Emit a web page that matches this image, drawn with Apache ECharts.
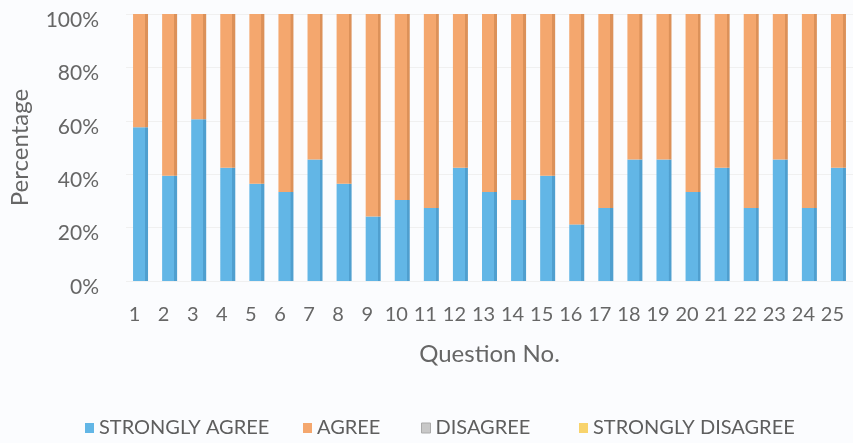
<!DOCTYPE html>
<html>
<head>
<meta charset="utf-8">
<script src="https://cdn.jsdelivr.net/npm/echarts@6/dist/echarts.min.js"></script>
<style>
  html, body { margin: 0; padding: 0; background: #fbfcfe; }
  #chart { width: 853px; height: 443px; }
</style>
</head>
<body>
<div id="chart"></div>
<script>
// Question numbers along the x axis
const questions = ['1','2','3','4','5','6','7','8','9','10','11','12','13','14','15','16','17','18','19','20','21','22','23','24','25'];

// Share of responses per question (%)
const stronglyAgree = [57.6, 39.4, 60.6, 42.4, 36.4, 33.3, 45.5, 36.4, 24.2, 30.3, 27.3, 42.4, 33.3, 30.3, 39.4, 21.2, 27.3, 45.5, 45.5, 33.3, 42.4, 27.3, 45.5, 27.3, 42.4];
const agree         = [42.4, 60.6, 39.4, 57.6, 63.6, 66.7, 54.5, 63.6, 75.8, 69.7, 72.7, 57.6, 66.7, 69.7, 60.6, 78.8, 72.7, 54.5, 54.5, 66.7, 57.6, 72.7, 54.5, 72.7, 57.6];
const disagree         = [0,0,0,0,0,0,0,0,0,0,0,0,0,0,0,0,0,0,0,0,0,0,0,0,0];
const stronglyDisagree = [0,0,0,0,0,0,0,0,0,0,0,0,0,0,0,0,0,0,0,0,0,0,0,0,0];

// Y axis ticks
const yTicks = [0, 20, 40, 60, 80, 100];

const seriesNames = ['STRONGLY AGREE', 'AGREE', 'DISAGREE', 'STRONGLY DISAGREE'];
const colors = ['#62b6e6', '#f4a76e', '#c8c8c8', '#f8d36c'];
const edgeColors = ['#4f9fcf', '#dc9159', '#b0b0b0', '#e0bb58'];

const FONT = 'Lato, "Open Sans", sans-serif';
const TEXT = '#666666';

// Column fill with a slightly darker right edge
function columnFill(i) {
  return {
    type: 'linear', x: 0, y: 0, x2: 1, y2: 0,
    colorStops: [
      { offset: 0, color: colors[i] },
      { offset: 0.8, color: colors[i] },
      { offset: 0.81, color: edgeColors[i] },
      { offset: 1, color: edgeColors[i] }
    ]
  };
}

const dataSets = [stronglyAgree, agree, disagree, stronglyDisagree];
const series = dataSets.map((d, i) => ({
  name: seriesNames[i],
  type: 'bar',
  stack: 'total',
  barWidth: 15,
  data: d,
  itemStyle: { color: columnFill(i) },
  emphasis: { disabled: true }
}));

// One legend block per entry so each sits at its own spot
const legendLefts = [80, 298, 416, 574];
const legends = seriesNames.map((n, i) => ({
  show: true,
  left: legendLefts[i],
  top: 413,
  orient: 'horizontal',
  icon: 'rect',
  itemWidth: 9,
  itemHeight: 10,
  itemGap: 0,
  data: [{ name: n, itemStyle: { color: colors[i], borderColor: i === 2 ? '#aaaaaa' : colors[i], borderWidth: i === 2 ? 1 : 0 } }],
  textStyle: { fontFamily: FONT, fontSize: 20, color: '#5e5e5e' },
  selectedMode: false
}));

const chart = echarts.init(document.getElementById('chart'), null, { renderer: 'canvas' });
chart.setOption({
  backgroundColor: '#fbfcfe',
  animation: false,
  color: colors,
  legend: legends,
  grid: { left: 126, top: 14, width: 730, height: 267, containLabel: false },
  xAxis: {
    type: 'category',
    data: questions,
    name: 'Question No.',
    nameLocation: 'middle',
    nameGap: 61,
    nameTextStyle: { fontFamily: FONT, fontSize: 24, color: TEXT, verticalAlign: 'top' },
    axisLine: { show: false },
    axisTick: { show: false },
    axisLabel: {
      interval: 0,
      hideOverlap: false,
      margin: 24,
      formatter: '{q|{value}}',
      rich: { q: { fontFamily: FONT, fontSize: 20, color: TEXT, padding: [0, 12, 0, 0] } }
    }
  },
  yAxis: {
    type: 'value',
    min: yTicks[0],
    max: yTicks[yTicks.length - 1],
    interval: 20,
    name: 'Percentage',
    nameLocation: 'middle',
    nameGap: 94,
    nameTextStyle: { fontFamily: FONT, fontSize: 24, color: TEXT },
    axisLine: { show: false },
    axisTick: { show: false },
    splitLine: { lineStyle: { color: '#f0f0f0', width: 1 } },
    axisLabel: {
      margin: 27,
      formatter: '{p|{value}%}',
      rich: { p: { fontFamily: FONT, fontSize: 21, color: TEXT, padding: [12, 0, 0, 0] } }
    }
  },
  series: series
});
</script>
</body>
</html>
